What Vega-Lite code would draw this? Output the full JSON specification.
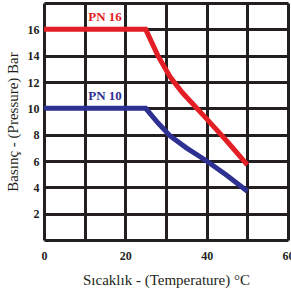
{
  "$schema": "https://vega.github.io/schema/vega-lite/v6.json",
  "width": 244,
  "height": 237,
  "autosize": "none",
  "padding": {"left": 44, "top": 3, "right": 3, "bottom": 51},
  "background": "white",
  "config": {"view": {"stroke": null}, "font": "Liberation Serif"},
  "datasets": {
    "curves": [
      {"series": "PN 16", "temp": 0, "pressure": 16},
      {"series": "PN 16", "temp": 25, "pressure": 16},
      {"series": "PN 16", "temp": 28, "pressure": 14},
      {"series": "PN 16", "temp": 31, "pressure": 12.4},
      {"series": "PN 16", "temp": 34, "pressure": 11.2},
      {"series": "PN 16", "temp": 40, "pressure": 9.2},
      {"series": "PN 16", "temp": 45, "pressure": 7.5},
      {"series": "PN 16", "temp": 50, "pressure": 5.7},
      {"series": "PN 10", "temp": 0, "pressure": 10},
      {"series": "PN 10", "temp": 25, "pressure": 10},
      {"series": "PN 10", "temp": 28, "pressure": 8.9},
      {"series": "PN 10", "temp": 31, "pressure": 7.9},
      {"series": "PN 10", "temp": 35, "pressure": 7.0},
      {"series": "PN 10", "temp": 40, "pressure": 6.0},
      {"series": "PN 10", "temp": 45, "pressure": 4.9},
      {"series": "PN 10", "temp": 50, "pressure": 3.7}
    ],
    "labels": [
      {"series": "PN 16", "temp": 15, "pressure": 16.9},
      {"series": "PN 10", "temp": 15, "pressure": 10.9}
    ]
  },
  "encoding": {
    "x": {
      "field": "temp", "type": "quantitative",
      "scale": {"domain": [0, 60], "nice": false},
      "axis": {
        "values": [0, 10, 20, 30, 40, 50, 60],
        "labelExpr": "datum.value % 20 == 0 ? datum.label : ''",
        "grid": true, "gridColor": "#231f20", "gridWidth": 3, "gridOpacity": 1,
        "domain": false, "ticks": false,
        "labelFont": "Liberation Serif", "labelFontWeight": "bold", "labelFontSize": 12, "labelColor": "#231f20",
        "labelPadding": 10, "labelFlush": false, "labelOverlap": false,
        "title": "Sıcaklık - (Temperature) °C",
        "titleFont": "Liberation Serif", "titleFontWeight": "normal", "titleFontSize": 15, "titleColor": "#231f20",
        "titlePadding": 11
      }
    },
    "y": {
      "field": "pressure", "type": "quantitative",
      "scale": {"domain": [0, 18], "nice": false},
      "axis": {
        "values": [0, 2, 4, 6, 8, 10, 12, 14, 16, 18],
        "labelExpr": "datum.value == 0 || datum.value == 18 ? '' : datum.label",
        "grid": true, "gridColor": "#231f20", "gridWidth": 3, "gridOpacity": 1,
        "domain": false, "ticks": false,
        "labelFont": "Liberation Serif", "labelFontWeight": "bold", "labelFontSize": 12, "labelColor": "#231f20",
        "labelPadding": 5, "labelFlush": false, "labelOverlap": false,
        "title": "Basınç - (Pressure) Bar",
        "titleFont": "Liberation Serif", "titleFontWeight": "normal", "titleFontSize": 15, "titleColor": "#231f20",
        "titlePadding": 7
      }
    },
    "color": {
      "field": "series", "type": "nominal",
      "scale": {"domain": ["PN 16", "PN 10"], "range": ["#e31e24", "#2e3192"]},
      "legend": null
    }
  },
  "layer": [
    {
      "data": {"name": "curves"},
      "mark": {"type": "line", "strokeWidth": 5, "strokeJoin": "miter", "strokeCap": "butt"}
    },
    {
      "data": {"name": "labels"},
      "mark": {"type": "text", "font": "Liberation Serif", "fontWeight": "bold", "fontSize": 13, "baseline": "middle", "align": "center"},
      "encoding": {
        "text": {"field": "series"}
      }
    }
  ]
}
